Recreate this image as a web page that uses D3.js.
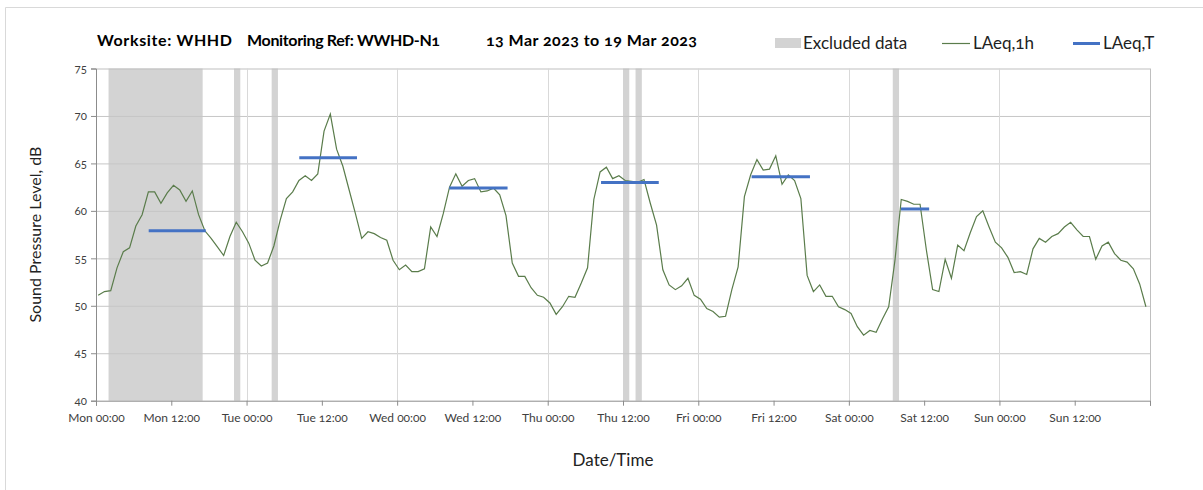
<!DOCTYPE html>
<html>
<head>
<meta charset="utf-8">
<script src="https://cdnjs.cloudflare.com/ajax/libs/d3/7.8.5/d3.min.js"></script>
<style>
  body { margin: 0; background: #fff; }
  svg text { font-family: Lato, "Noto Sans", sans-serif; font-feature-settings: "onum"; }
</style>
</head>
<body>
<div id="chart"></div>
<script>
// hourly LAeq,1h values from Mon 00:00 (hour 0) to Sun 23:00 (hour 167)
var laeq1h = [
  51.1, 51.5, 51.6, 54.0, 55.7, 56.1, 58.4, 59.6, 62.0, 62.0, 60.8, 61.9,
  62.7, 62.2, 61.0, 62.1, 59.6, 57.9, 57.1, 56.2, 55.3, 57.3, 58.8, 57.8,
  56.6, 54.8, 54.2, 54.5, 56.3, 59.0, 61.3, 62.0, 63.2, 63.7, 63.2, 63.9,
  68.4, 70.2, 66.5, 64.7, 62.2, 59.7, 57.1, 57.8, 57.6, 57.2, 56.9, 54.8,
  53.8, 54.3, 53.6, 53.6, 53.9, 58.3, 57.3, 59.7, 62.5, 63.9, 62.6, 63.2,
  63.4, 62.0, 62.1, 62.4, 61.7, 59.5, 54.5, 53.1, 53.1, 51.9, 51.1, 50.9,
  50.3, 49.1, 49.9, 51.0, 50.9, 52.4, 54.0, 61.2, 64.1, 64.6, 63.4, 63.7,
  63.2, 63.1, 63.0, 63.3, 60.8, 58.5, 53.8, 52.2, 51.7, 52.1, 52.9, 51.1,
  50.7, 49.7, 49.4, 48.8, 48.9, 51.7, 54.1, 61.5, 63.8, 65.4, 64.3, 64.4,
  65.8, 62.8, 63.8, 63.2, 61.3, 53.2, 51.5, 52.2, 51.0, 51.0, 49.9, 49.6,
  49.2, 47.8, 46.9, 47.4, 47.2, 48.6, 49.9, 54.8, 61.2, 61.0, 60.7, 60.7,
  55.9, 51.7, 51.5, 54.9, 52.9, 56.4, 55.8, 57.7, 59.4, 60.0, 58.3, 56.7,
  56.1, 55.1, 53.5, 53.6, 53.3, 56.0, 57.1, 56.7, 57.3, 57.6, 58.3, 58.8,
  58.0, 57.3, 57.3, 54.9, 56.3, 56.7, 55.5, 54.8, 54.6, 53.9, 52.3, 49.9
];
var hourOffset = 0.35;

// LAeq,T daytime periods (hours from Mon 00:00)
var ltStart = [8.4, 32.4, 56.3, 80.5, 104.5, 128.3];
var ltEnd   = [17.5, 41.6, 65.6, 89.7, 113.8, 132.8];
var ltValue = [57.9, 65.6, 62.4, 63.0, 63.6, 60.2];

// excluded data periods (hours from Mon 00:00)
var exStart = [2, 22, 28, 84, 86, 127];
var exEnd   = [17, 23, 29, 85, 87, 128];

var days = ["Mon", "Tue", "Wed", "Thu", "Fri", "Sat", "Sun"];
var xTicks = d3.range(0, 169, 12);
var yTicks = d3.range(40, 76, 5);

var W = 1203, H = 490;
var svg = d3.select("#chart").append("svg").attr("width", W).attr("height", H);

// outer chart frame
svg.append("path").attr("d", "M5.5,490 V7.5 H1203").attr("fill", "none").attr("stroke", "#d9d9d9");

var x = d3.scaleLinear().domain([0, 168]).range([96, 1150]);
var y = d3.scaleLinear().domain([40, 75]).range([400.7, 68.5]);

var plot = svg.append("g");

// excluded bands
plot.selectAll("rect.ex").data(exStart).enter().append("rect")
  .attr("class", "ex")
  .attr("x", function(d) { return x(d); })
  .attr("width", function(d, i) { return x(exEnd[i]) - x(d); })
  .attr("y", y(75)).attr("height", y(40) - y(75))
  .attr("fill", "#d3d3d3");

// horizontal gridlines
plot.selectAll("line.hg").data(yTicks.filter(function(d) { return d > 40; })).enter().append("line")
  .attr("x1", x(0)).attr("x2", x(168))
  .attr("y1", function(d) { return y(d) + 0.5; }).attr("y2", function(d) { return y(d) + 0.5; })
  .attr("stroke", function(d) { return d == 75 ? "#bfbfbf" : "#c6c6c6"; }).attr("stroke-width", 1);

// vertical gridlines at midnight
plot.selectAll("line.vg").data(d3.range(24, 168, 24)).enter().append("line")
  .attr("x1", function(d) { return Math.round(x(d)) + 0.5; }).attr("x2", function(d) { return Math.round(x(d)) + 0.5; })
  .attr("y1", y(75)).attr("y2", y(40))
  .attr("stroke", "#d9d9d9");

// right border
plot.append("line").attr("x1", x(168) + 0.5).attr("x2", x(168) + 0.5)
  .attr("y1", y(75)).attr("y2", y(40)).attr("stroke", "#bfbfbf");

// axes
var xAxis = d3.axisBottom(x).tickValues(xTicks).tickSize(5)
  .tickFormat(function(d) {
    if (d >= 168) return "";
    return days[Math.floor(d / 24)] + " " + (d % 24 == 0 ? "00:00" : "12:00");
  });
var gx = svg.append("g").attr("transform", "translate(0," + y(40) + ")").call(xAxis);
gx.select(".domain").attr("stroke", "#8c8c8c");
gx.selectAll(".tick line").attr("stroke", "#8c8c8c");
gx.selectAll(".tick text").attr("fill", "#404040").attr("font-size", 12).attr("dy", "1.1em");

var yAxis = d3.axisLeft(y).tickValues(yTicks).tickSize(5).tickFormat(d3.format("d"));
var gy = svg.append("g").attr("transform", "translate(" + x(0) + ",0)").call(yAxis);
gy.select(".domain").attr("stroke", "#8c8c8c");
gy.selectAll(".tick line").attr("stroke", "#8c8c8c");
gy.selectAll(".tick text").attr("fill", "#404040").attr("font-size", 11.5).attr("x", -9);

// LAeq,1h line
var line = d3.line()
  .x(function(d, i) { return x(i + hourOffset); })
  .y(function(d) { return y(d); });
svg.append("path").datum(laeq1h).attr("d", line)
  .attr("fill", "none").attr("stroke", "#5a7c4b").attr("stroke-width", 1.2);

// LAeq,T segments
svg.selectAll("line.lt").data(ltValue).enter().append("line")
  .attr("x1", function(d, i) { return x(ltStart[i]); })
  .attr("x2", function(d, i) { return x(ltEnd[i]); })
  .attr("y1", function(d) { return y(d); }).attr("y2", function(d) { return y(d); })
  .attr("stroke", "#4472c4").attr("stroke-width", 3);

// title
var title = svg.append("g").attr("font-weight", "bold").attr("font-size", 16).attr("fill", "#000");
title.append("text").attr("x", 97).attr("y", 46).attr("textLength", 135).text("Worksite: WHHD");
title.append("text").attr("x", 247).attr("y", 46).attr("textLength", 193).text("Monitoring Ref: WWHD-N1");
title.append("text").attr("x", 486).attr("y", 46).attr("textLength", 211).text("13 Mar 2023 to 19 Mar 2023");

// legend
var lg = svg.append("g").attr("font-size", 17).attr("fill", "#222");
lg.append("rect").attr("x", 775).attr("y", 38).attr("width", 26).attr("height", 10).attr("fill", "#d3d3d3");
lg.append("text").attr("x", 803).attr("y", 49).text("Excluded data");
lg.append("line").attr("x1", 942).attr("x2", 970).attr("y1", 43.5).attr("y2", 43.5)
  .attr("stroke", "#5a7c4b").attr("stroke-width", 1.2);
lg.append("text").attr("x", 973).attr("y", 49).text("LAeq,1h");
lg.append("line").attr("x1", 1073).attr("x2", 1100).attr("y1", 43.5).attr("y2", 43.5)
  .attr("stroke", "#4472c4").attr("stroke-width", 3);
lg.append("text").attr("x", 1103).attr("y", 49).text("LAeq,T");

// axis titles
svg.append("text").attr("transform", "translate(41," + ((y(40) + y(75)) / 2) + ") rotate(-90)")
  .attr("text-anchor", "middle").attr("font-size", 16).attr("fill", "#222")
  .text("Sound Pressure Level, dB");
svg.append("text").attr("x", 613).attr("y", 466).attr("text-anchor", "middle")
  .attr("font-size", 17).attr("fill", "#222").text("Date/Time");
</script>
</body>
</html>
